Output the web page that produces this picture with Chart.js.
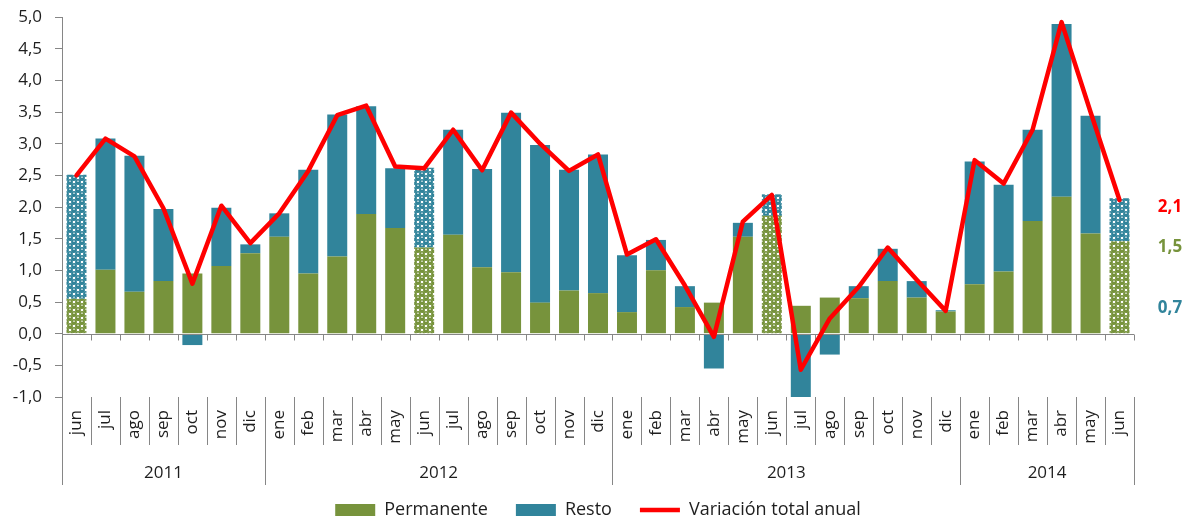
<!DOCTYPE html>
<html><head><meta charset="utf-8">
<script src="https://cdn.jsdelivr.net/npm/chart.js@4.4.1/dist/chart.umd.min.js"></script>
<style>html,body{margin:0;padding:0;background:#fff;overflow:hidden}</style>
</head><body>
<canvas id="c" width="1188" height="521"></canvas>
<script>
// ---------- DATA ----------
const months = ['jun','jul','ago','sep','oct','nov','dic',
  'ene','feb','mar','abr','may','jun','jul','ago','sep','oct','nov','dic',
  'ene','feb','mar','abr','may','jun','jul','ago','sep','oct','nov','dic',
  'ene','feb','mar','abr','may','jun'];
const years = ['2011','2012','2013','2014'];
const yearSpans = [7, 12, 12, 6];
const estimated = [true,false,false,false,false,false,false,
  false,false,false,false,false,true,false,false,false,false,false,false,
  false,false,false,false,false,true,false,false,false,false,false,false,
  false,false,false,false,false,true];
const permanente = [0.55,1.01,0.66,0.83,0.95,1.07,1.27,
  1.53,0.95,1.22,1.89,1.67,1.36,1.56,1.05,0.97,0.49,0.68,0.64,
  0.34,1.00,0.42,0.49,1.53,1.86,0.44,0.57,0.56,0.83,0.57,0.35,
  0.78,0.98,1.78,2.16,1.58,1.46];
const resto = [1.96,2.07,2.15,1.14,-0.18,0.92,0.14,
  0.37,1.64,2.24,1.70,0.94,1.26,1.66,1.55,2.52,2.49,1.91,2.19,
  0.90,0.48,0.33,-0.55,0.22,0.34,-1.01,-0.33,0.19,0.51,0.26,0.02,
  1.94,1.37,1.44,2.73,1.86,0.68];
const total = [2.50,3.08,2.80,1.98,0.79,2.02,1.43,
  1.90,2.57,3.45,3.60,2.64,2.61,3.22,2.58,3.49,3.00,2.57,2.83,
  1.25,1.49,0.76,-0.05,1.77,2.19,-0.57,0.24,0.74,1.36,0.85,0.36,
  2.74,2.37,3.22,4.92,3.50,2.11];
const yTickValues = [-1,-0.5,0,0.5,1,1.5,2,2.5,3,3.5,4,4.5,5];
const seriesNames = ['Permanente','Resto','Variación total anual'];
const endLabels = ['2,1','1,5','0,7'];

// ---------- STYLE ----------
const GREEN = '#77933C', TEAL = '#31849B', RED = '#FF0000';
const AXIS = '#868686', TEXT = '#1e1e1e';
const FONT = "'Open Sans', sans-serif";
const FS = 17;

const canvas = document.getElementById('c');
const ctx0 = canvas.getContext('2d');
function makePattern(color){
  const c = document.createElement('canvas'); c.width = 8; c.height = 8;
  const g = c.getContext('2d');
  g.fillStyle = '#fff'; g.fillRect(0,0,8,8);
  g.fillStyle = color;
  [[2,2],[6,6],[-2,6],[6,-2],[10,2],[2,10]].forEach(([cx,cy]) => {
    g.beginPath(); g.arc(cx,cy,2.95,0,Math.PI*2); g.fill();
  });
  g.fillStyle = 'rgba(255,255,255,0.8)';
  [[2,1.2],[6,5.2]].forEach(([cx,cy]) => {
    g.beginPath(); g.ellipse(cx,cy,1.1,0.6,0,0,Math.PI*2); g.fill();
  });
  return ctx0.createPattern(c,'repeat');
}
const greenPat = makePattern(GREEN), tealPat = makePattern(TEAL);

const fmt = v => v.toFixed(1).replace('.', ',');

const axisPlugin = {
  id: 'axisDecor',
  beforeDatasetDraw(chart, args){
    if (args.index !== 2) return;
    const {ctx, chartArea} = chart;
    const x = chart.scales.x, y = chart.scales.y;
    const y0 = Math.round(y.getPixelForValue(0)) + 0.5;
    const n = months.length;
    const step = (chartArea.right - chartArea.left) / n;
    ctx.save();
    ctx.strokeStyle = AXIS; ctx.lineWidth = 1;
    ctx.beginPath();
    ctx.moveTo(chartArea.left, y0); ctx.lineTo(chartArea.right, y0);
    for (let i = 1; i <= n; i++){
      const px = Math.round(x.getPixelForValue(i - 1) + step/2) + 0.5;
      ctx.moveTo(px, y0); ctx.lineTo(px, y0 + 6);
    }
    ctx.stroke();
    ctx.restore();
  },
  afterDraw(chart){
    const {ctx, chartArea} = chart;
    const x = chart.scales.x, y = chart.scales.y;
    const n = months.length;
    const step = (chartArea.right - chartArea.left) / n;
    const b = chartArea.bottom;
    ctx.save();
    ctx.strokeStyle = AXIS; ctx.lineWidth = 1;
    ctx.beginPath();
    for (let i = 0; i <= n; i++){
      const px = Math.round(x.getPixelForValue(0) - step/2 + i*step) + 0.5;
      ctx.moveTo(px, b); ctx.lineTo(px, b + 48);
    }
    let acc = 0;
    const bounds = [0];
    yearSpans.forEach(s => { acc += s; bounds.push(acc); });
    bounds.forEach(k => {
      const px = Math.round(x.getPixelForValue(0) - step/2 + k*step) + 0.5;
      ctx.moveTo(px, b); ctx.lineTo(px, b + 88);
    });
    ctx.stroke();
    ctx.fillStyle = TEXT;
    ctx.font = FS + 'px ' + FONT;
    ctx.textAlign = 'center'; ctx.textBaseline = 'middle';
    years.forEach((yr, i) => {
      const x1 = x.getPixelForValue(0) - step/2 + bounds[i]*step;
      const x2 = x.getPixelForValue(0) - step/2 + bounds[i+1]*step;
      ctx.fillText(yr, (x1 + x2)/2, b + 76);
    });
    ctx.font = 'bold ' + FS + 'px ' + FONT;
    const cols = [RED, GREEN, TEAL];
    const anchors = [1.99, 1.36, 0.40];
    endLabels.forEach((t, i) => {
      ctx.fillStyle = cols[i];
      ctx.fillText(t, chartArea.right + 36, y.getPixelForValue(anchors[i]));
    });
    ctx.restore();
  }
};

new Chart(canvas, {
  type: 'bar',
  data: {
    labels: months,
    datasets: [
      { label: seriesNames[0], data: permanente, order: 1, stack: 'bars',
        backgroundColor: permanente.map((v,i) => estimated[i] ? greenPat : GREEN),
        borderWidth: 0, barPercentage: 0.69, categoryPercentage: 1 },
      { label: seriesNames[1], data: resto, order: 1, stack: 'bars',
        backgroundColor: resto.map((v,i) => estimated[i] ? tealPat : TEAL),
        borderWidth: 0, barPercentage: 0.69, categoryPercentage: 1 },
      { type: 'line', label: seriesNames[2], data: total, order: 0, stack: 'line',
        borderColor: RED, backgroundColor: RED, borderWidth: 4.5, pointRadius: 0,
        tension: 0, fill: false, borderJoinStyle: 'round', borderCapStyle: 'round' }
    ]
  },
  options: {
    responsive: false, animation: false, devicePixelRatio: 1,
    layout: { padding: { top: 17, left: 0, right: 0, bottom: 0 } },
    plugins: {
      tooltip: { enabled: false },
      legend: {
        position: 'bottom', maxHeight: 48, fullSize: false,
        labels: {
          font: { family: FONT, size: 18 }, color: TEXT,
          usePointStyle: true, pointStyleWidth: 40, boxHeight: 12, padding: 28,
          generateLabels(chart){
            const cols = [GREEN, TEAL, RED];
            return chart.data.datasets.map((d, i) => ({
              text: d.label, fillStyle: cols[i], strokeStyle: cols[i],
              lineWidth: i === 2 ? 4.5 : 0, pointStyle: i === 2 ? 'line' : 'rect',
              datasetIndex: i, hidden: false, fontColor: TEXT
            }));
          }
        }
      }
    },
    scales: {
      x: {
        stacked: true,
        grid: { display: false, drawTicks: false },
        border: { display: false },
        ticks: { autoSkip: false, maxRotation: 90, minRotation: 90, padding: 13,
          font: { family: FONT, size: FS }, color: TEXT },
        afterFit(s){ s.height = 76; s.paddingLeft = 0; s.paddingRight = 0; }
      },
      y: {
        stacked: true, min: -1, max: 5,
        afterBuildTicks(s){ s.ticks = yTickValues.map(v => ({ value: v })); },
        ticks: { padding: 13, font: { family: FONT, size: FS }, color: TEXT,
          callback: v => fmt(v) },
        grid: { drawOnChartArea: false, tickLength: 7, color: AXIS, lineWidth: 1 },
        border: { display: true, color: AXIS, width: 1 },
        afterFit(s){ s.width = 62; s.paddingTop = 0; s.paddingBottom = 0; }
      },
      yr: {
        position: 'right', display: true,
        grid: { display: false, drawTicks: false }, border: { display: false },
        ticks: { display: false },
        afterFit(s){ s.width = 54; s.paddingTop = 0; s.paddingBottom = 0; }
      }
    }
  },
  plugins: [axisPlugin]
});
</script>
</body></html>
